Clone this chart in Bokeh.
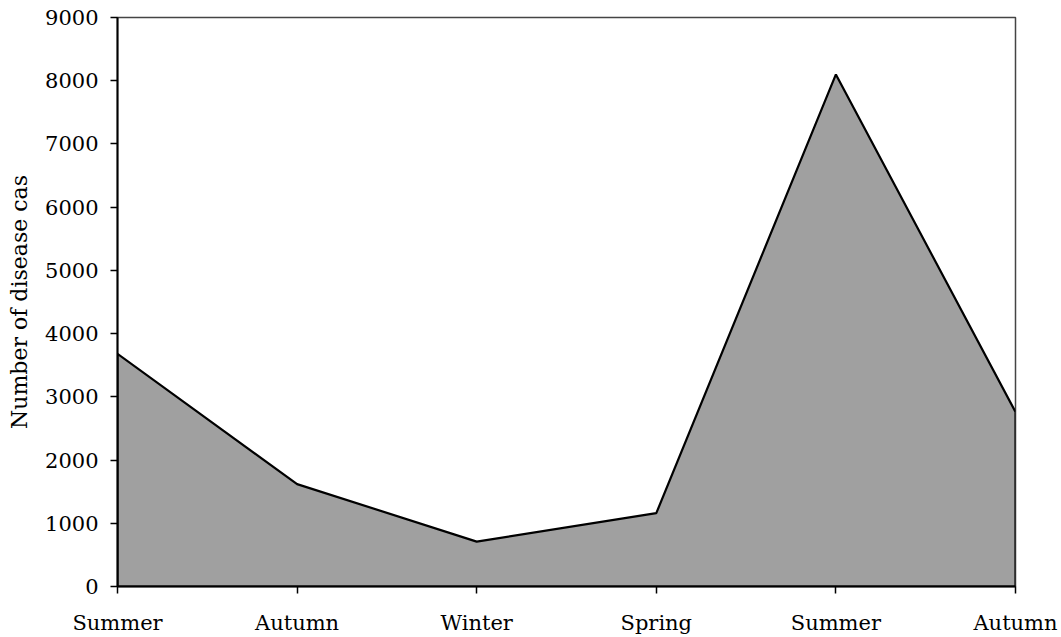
from bokeh.plotting import figure
from bokeh.models import Range1d, FixedTicker
from bokeh.embed import file_html
from bokeh.resources import INLINE

seasons = ["Summer", "Autumn", "Winter", "Spring", "Summer", "Autumn"]
cases = [3680, 1620, 710, 1160, 8100, 2760]
y_ticks = [0, 1000, 2000, 3000, 4000, 5000, 6000, 7000, 8000, 9000]

xs = list(range(len(seasons)))

p = figure(width=1061, height=637, output_backend="svg", toolbar_location=None,
           x_range=Range1d(0, len(seasons) - 1), y_range=Range1d(0, 9000),
           min_border_left=117, min_border_right=46, min_border_top=17, min_border_bottom=50)

px = xs + [xs[-1], xs[0]]
py = cases + [0, 0]
p.patch(px, py, fill_color="#a0a0a0", line_color="black", line_width=2.2)

p.xgrid.visible = False
p.ygrid.visible = False
p.outline_line_color = "#444444"
p.outline_line_width = 1.5
p.background_fill_color = "white"
p.border_fill_color = "white"

font = "DejaVu Serif"
p.xaxis.ticker = FixedTicker(ticks=xs)
p.xaxis.major_label_overrides = {i: s for i, s in enumerate(seasons)}
p.yaxis.ticker = FixedTicker(ticks=y_ticks)
for ax in (p.xaxis[0], p.yaxis[0]):
    ax.major_label_text_font = font
    ax.major_label_text_font_size = "21px"
    ax.major_label_text_color = "black"
    ax.axis_line_color = "black"
    ax.axis_line_width = 2
    ax.major_tick_line_color = "black"
    ax.major_tick_line_width = 1.5
    ax.major_tick_in = 0
    ax.major_tick_out = 7
    ax.minor_tick_line_color = None
p.xaxis.major_label_standoff = 17
p.yaxis.major_label_standoff = 12
p.yaxis.axis_label = "Number of disease cas"
p.yaxis.axis_label_text_font = font
p.yaxis.axis_label_text_font_size = "22px"
p.yaxis.axis_label_text_font_style = "normal"
p.yaxis.axis_label_text_color = "black"
p.yaxis.axis_label_standoff = 10

open("out.html", "w").write(file_html(p, INLINE))
